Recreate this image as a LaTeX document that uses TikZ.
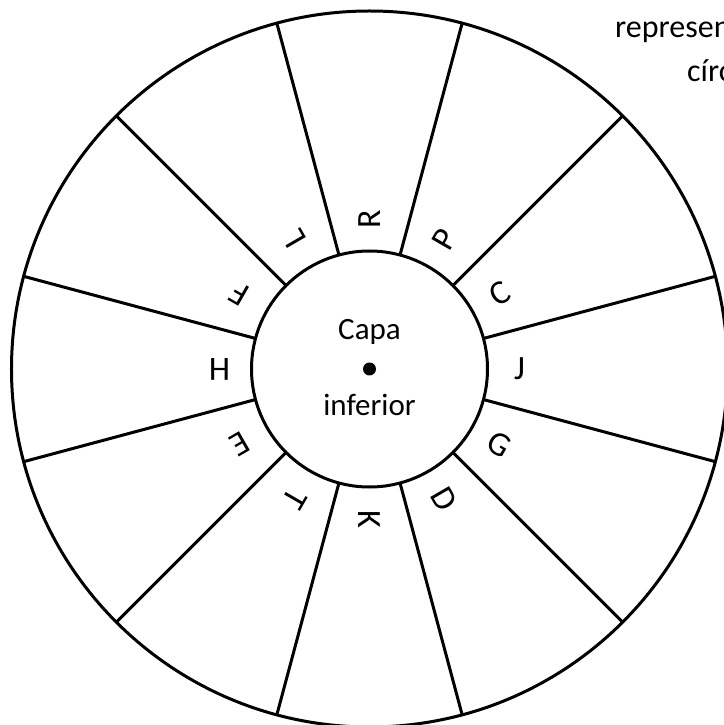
\documentclass[tikz,border=0pt]{standalone}
\usepackage{fontspec}
\setmainfont{Carlito}
\usetikzlibrary{positioning}

\begin{document}
\begin{tikzpicture}[
    x=1pt, y=1pt,
    ring/.style={draw=black, line width=3pt},
    spoke/.style={draw=black, line width=3pt},
    letter/.style={inner sep=0pt, font=\fontsize{34}{36}\selectfont},
    caption/.style={inner sep=0pt, anchor=base, font=\fontsize{31}{36}\selectfont},
    margintext/.style={inner sep=0pt, anchor=base west, font=\fontsize{32}{36}\selectfont}
]
\useasboundingbox (-369.5,-356) rectangle (353.5,369);

% Rings
\draw[ring] (0,0) circle (358);
\draw[ring] (0,0) circle (118);

% Spokes between the rings
\foreach \a in {15,45,...,345}
    \draw[spoke] (\a:118) -- (\a:358);

% Centre of the lower layer
\fill[black] (0,0) circle (6.5);
\node[caption] (capa) at (0,29) {Capa};
\node[caption, below=75pt of capa.base, anchor=base] (inferior) {inferior};

% Letters round the inner ring
\node[letter, rotate=0]   (J) at (0:150)   {J};
\node[letter, rotate=30]  (C) at (30:150)  {C};
\node[letter, rotate=60]  (P) at (60:150)  {P};
\node[letter, rotate=90]  (R) at (90:150)  {R};
\node[letter, rotate=120] (L) at (120:150) {L};
\node[letter, rotate=150] (F) at (150:150) {F};
\node[letter, rotate=180] (H) at (180:150) {H};
\node[letter, rotate=210] (E) at (210:150) {E};
\node[letter, rotate=240] (T) at (240:150) {T};
\node[letter, rotate=270] (K) at (270:150) {K};
\node[letter, rotate=300] (D) at (300:150) {D};
\node[letter, rotate=330] (G) at (330:150) {G};

% Cut-off text at the right margin
\node[margintext] (line1) at (245.5,331) {represen};
\node[margintext] (line2) at (317.5,287) {círc};

\end{tikzpicture}
\end{document}
